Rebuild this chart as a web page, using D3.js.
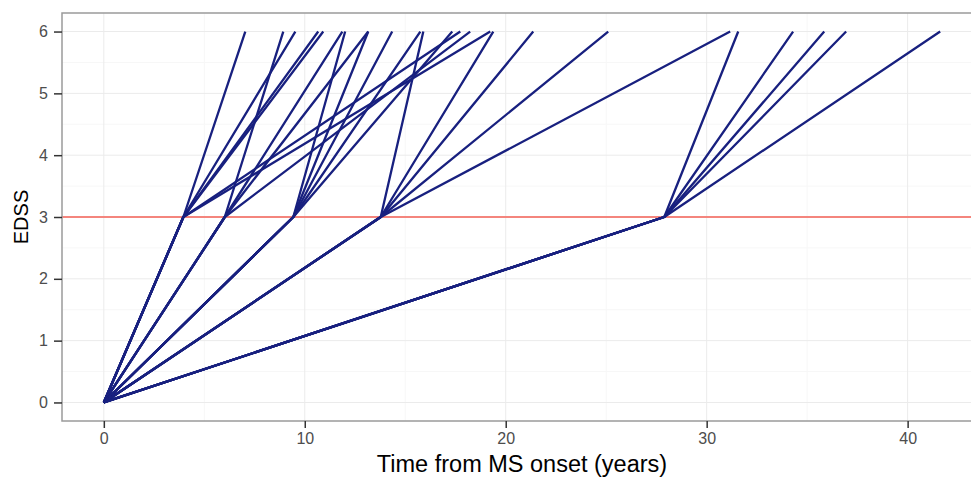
<!DOCTYPE html>
<html>
<head>
<meta charset="utf-8">
<script src="https://cdn.jsdelivr.net/npm/d3@7"></script>
<style>
  body { margin: 0; background: #fff; }
  text { font-family: "Liberation Sans", Arial, sans-serif; }
</style>
</head>
<body>
<svg id="chart" width="971" height="478"></svg>
<script>
// EDSS milestones and times (years from onset)
const edssLevels = [0, 3, 6];
const threshold = 3;
const timeToEdss3 = [3.96, 6.02, 9.43, 13.78, 27.89];
// time to EDSS 6 for each patient, grouped by their time to EDSS 3
const timeToEdss6 = [
  [7.04, 9.53, 10.67, 10.92, 17.74, 19.23],
  [8.93, 11.87, 13.16, 18.23],
  [12.01, 13.16, 14.35, 15.75, 17.34],
  [15.9, 19.38, 21.37, 25.1, 31.17],
  [31.57, 34.3, 35.85, 36.94, 41.62]
];
const xTicks = [0, 10, 20, 30, 40];
const yTicks = [0, 1, 2, 3, 4, 5, 6];

const svg = d3.select("#chart");
const margin = { left: 62, top: 13, right: -11, bottom: 57 };
const W = 971, H = 478;

const allT = timeToEdss6.flat();
const xMax = d3.max(allT);
const xPad = xMax * 0.05;
const x = d3.scaleLinear()
  .domain([-xPad, xMax + xPad])
  .range([margin.left, W - margin.right]);
const y = d3.scaleLinear()
  .domain([-0.3, 6.3])
  .range([H - margin.bottom, margin.top]);

const gPanel = svg.append("g");
gPanel.append("rect")
  .attr("x", x.range()[0]).attr("y", y.range()[1])
  .attr("width", x.range()[1] - x.range()[0])
  .attr("height", y.range()[0] - y.range()[1])
  .attr("fill", "#fff");

// minor grid
const xMinor = [5, 15, 25, 35];
const yMinor = [0.5, 1.5, 2.5, 3.5, 4.5, 5.5];
gPanel.selectAll("line.xminor").data(xMinor).enter().append("line")
  .attr("x1", d => x(d)).attr("x2", d => x(d))
  .attr("y1", y.range()[0]).attr("y2", y.range()[1])
  .attr("stroke", "#f7f7f7").attr("stroke-width", 1);
gPanel.selectAll("line.yminor").data(yMinor).enter().append("line")
  .attr("y1", d => y(d)).attr("y2", d => y(d))
  .attr("x1", x.range()[0]).attr("x2", x.range()[1])
  .attr("stroke", "#f7f7f7").attr("stroke-width", 1);
// major grid
gPanel.selectAll("line.xmajor").data(xTicks).enter().append("line")
  .attr("x1", d => x(d)).attr("x2", d => x(d))
  .attr("y1", y.range()[0]).attr("y2", y.range()[1])
  .attr("stroke", "#ebebeb").attr("stroke-width", 1);
gPanel.selectAll("line.ymajor").data(yTicks).enter().append("line")
  .attr("y1", d => y(d)).attr("y2", d => y(d))
  .attr("x1", x.range()[0]).attr("x2", x.range()[1])
  .attr("stroke", "#ebebeb").attr("stroke-width", 1);

// threshold line
gPanel.append("line")
  .attr("x1", x.range()[0]).attr("x2", x.range()[1])
  .attr("y1", y(threshold)).attr("y2", y(threshold))
  .attr("stroke", "#f4857d").attr("stroke-width", 2);

// patient paths
const paths = [];
timeToEdss3.forEach((t3, i) => {
  timeToEdss6[i].forEach(t6 => {
    paths.push([[0, edssLevels[0]], [t3, edssLevels[1]], [t6, edssLevels[2]]]);
  });
});
const line = d3.line().x(d => x(d[0])).y(d => y(d[1]));
gPanel.selectAll("path.patient").data(paths).enter().append("path")
  .attr("d", line)
  .attr("fill", "none")
  .attr("stroke", "#18207f")
  .attr("stroke-width", 2.3)
  .attr("stroke-linejoin", "round");

// border
gPanel.append("rect")
  .attr("x", x.range()[0]).attr("y", y.range()[1])
  .attr("width", x.range()[1] - x.range()[0])
  .attr("height", y.range()[0] - y.range()[1])
  .attr("fill", "none").attr("stroke", "#9a9a9a").attr("stroke-width", 1.5);

// axes
const xAxis = svg.append("g")
  .attr("transform", `translate(0,${y.range()[0]})`)
  .call(d3.axisBottom(x).tickValues(xTicks).tickFormat(d3.format("d")).tickSize(7).tickPadding(5));
const yAxis = svg.append("g")
  .attr("transform", `translate(${x.range()[0]},0)`)
  .call(d3.axisLeft(y).tickValues(yTicks).tickFormat(d3.format("d")).tickSize(8).tickPadding(6));
[xAxis, yAxis].forEach(a => {
  a.select(".domain").remove();
  a.selectAll(".tick line").attr("stroke", "#333").attr("stroke-width", 1.5);
  a.selectAll(".tick text").attr("fill", "#4d4d4d").attr("font-size", 16)
    .attr("font-family", "Liberation Sans, Arial, sans-serif");
});

svg.append("text")
  .attr("x", (margin.left + 982) / 2).attr("y", 472)
  .attr("text-anchor", "middle").attr("font-size", 23.5)
  .text("Time from MS onset (years)");
svg.append("text")
  .attr("transform", `translate(28,${(y.range()[0] + y.range()[1]) / 2}) rotate(-90)`)
  .attr("text-anchor", "middle").attr("font-size", 20)
  .text("EDSS");
</script>
</body>
</html>
